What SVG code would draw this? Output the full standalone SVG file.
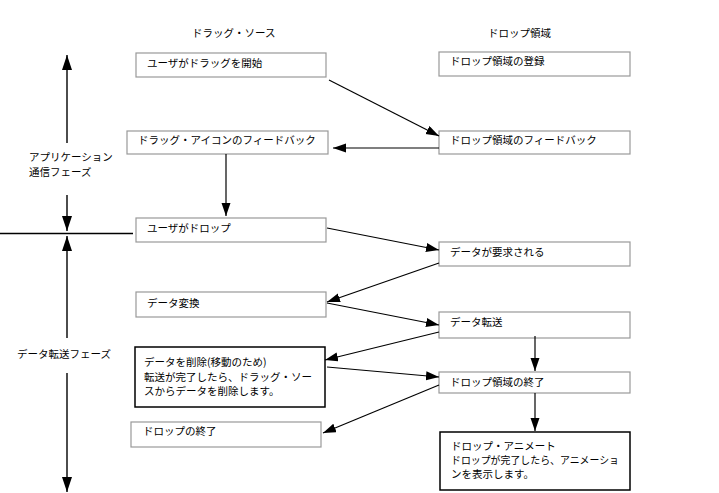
<svg xmlns="http://www.w3.org/2000/svg" width="719" height="493" viewBox="0 0 719 493">
<defs>
<marker id="ah" markerUnits="userSpaceOnUse" markerWidth="14" markerHeight="10" refX="13" refY="4.5" orient="auto"><path d="M0,0 L13,4.5 L0,9 z" fill="#000"/></marker>
<marker id="ahl" markerUnits="userSpaceOnUse" markerWidth="16" markerHeight="12" refX="15" refY="5" orient="auto"><path d="M0,0 L15,5 L0,10 z" fill="#000"/></marker>
</defs>
<style>
text{font-family:"Noto Sans CJK JP","Liberation Sans",sans-serif;font-size:10.5px;fill:#000}
.box{fill:#fff;stroke:#999;stroke-width:1.2}
.tbox{fill:#fff;stroke:#000;stroke-width:1.5}
.c{stroke:#000;stroke-width:1.2;fill:none;marker-end:url(#ah)}
.p{stroke:#000;stroke-width:1.4;fill:none;marker-end:url(#ahl)}
</style>
<rect width="719" height="493" fill="#fff"/>
<text x="192" y="37">ドラッグ・ソース</text>
<text x="488" y="37">ドロップ領域</text>
<g id="phase">
<line class="p" x1="67" y1="143" x2="67" y2="55"/>
<line class="p" x1="67" y1="195" x2="67" y2="231"/>
<line x1="0" y1="233.5" x2="133" y2="233.5" stroke="#000" stroke-width="1.6"/>
<line class="p" x1="67" y1="338" x2="67" y2="236"/>
<line class="p" x1="67" y1="373" x2="67" y2="492"/>
<text x="29" y="161">アプリケーション</text>
<text x="29" y="176">通信フェーズ</text>
<text x="17" y="358">データ転送フェーズ</text>
</g>
<g id="n1"><rect class="box" x="136" y="53" width="190" height="24"/><text x="147" y="67">ユーザがドラッグを開始</text></g>
<g id="n2"><rect class="box" x="127" y="131" width="201" height="23"/><text x="138" y="144">ドラッグ・アイコンのフィードバック</text></g>
<g id="n3"><rect class="box" x="136" y="218" width="190" height="24"/><text x="147" y="232">ユーザがドロップ</text></g>
<g id="n4"><rect class="box" x="136" y="292" width="190" height="25"/><text x="147" y="307">データ変換</text></g>
<g id="n5"><rect class="tbox" x="135" y="347" width="190" height="60"/><text x="144" y="366">データを削除(移動のため)</text><text x="144" y="381">転送が完了したら、ドラッグ・ソー</text><text x="144" y="395">スからデータを削除します。</text></g>
<g id="n6"><rect class="box" x="131" y="422" width="190" height="25"/><text x="143" y="435">ドロップの終了</text></g>
<g id="m1"><rect class="box" x="439" y="52" width="191" height="24"/><text x="450" y="65">ドロップ領域の登録</text></g>
<g id="m2"><rect class="box" x="439" y="131" width="191" height="23"/><text x="450" y="144">ドロップ領域のフィードバック</text></g>
<g id="m3"><rect class="box" x="439" y="242" width="191" height="24"/><text x="450" y="256">データが要求される</text></g>
<g id="m4"><rect class="box" x="439" y="312" width="191" height="26"/><text x="450" y="326">データ転送</text></g>
<g id="m5"><rect class="box" x="439" y="372" width="191" height="21"/><text x="450" y="386">ドロップ領域の終了</text></g>
<g id="m6"><rect class="tbox" x="440" y="432" width="190" height="58"/><text x="451" y="450">ドロップ・アニメート</text><text x="451" y="464" textLength="168" lengthAdjust="spacingAndGlyphs">ドロップが完了したら、アニメーショ</text><text x="451" y="478">ンを表示します。</text></g>
<g id="connectors">
<line class="c" x1="329" y1="80" x2="439" y2="136"/>
<line class="c" x1="439" y1="148" x2="333" y2="148"/>
<line class="c" x1="226" y1="154" x2="226" y2="216"/>
<line class="c" x1="327" y1="228" x2="439" y2="250"/>
<line class="c" x1="439" y1="263" x2="327" y2="302"/>
<line class="c" x1="327" y1="303" x2="439" y2="325"/>
<line class="c" x1="439" y1="332" x2="325" y2="360"/>
<line class="c" x1="535" y1="336" x2="535" y2="371"/>
<line class="c" x1="327" y1="367" x2="439" y2="377"/>
<line class="c" x1="439" y1="385" x2="323" y2="433"/>
<line class="c" x1="535" y1="393" x2="535" y2="431"/>
</g>
</svg>
